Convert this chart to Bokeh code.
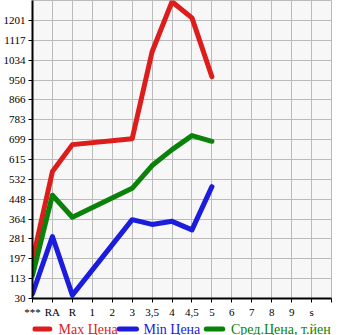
from bokeh.plotting import figure
from bokeh.models import Range1d, FixedTicker
from bokeh.core.properties import value
from bokeh.layouts import column
from bokeh.embed import file_html
from bokeh.resources import INLINE

categories = ["***", "RA", "R", "1", "2", "3", "3,5", "4", "4,5", "5", "6", "7", "8", "9", "s"]
y_ticks = [30, 113, 197, 281, 364, 448, 532, 615, 699, 783, 866, 950, 1034, 1117, 1201]
max_price = [190, 565, 678, None, None, 703, 1069, 1280, 1212, 964, None, None, None, None, None]
min_price = [50, 291, 44, None, None, 362, 342, 355, 319, 501, None, None, None, None, None]
avg_price = [127, 465, 372, None, None, 494, 590, 657, 716, 692, None, None, None, None, None]
labels = ["Max Цена", "Min Цена", "Сред.Цена, т.йен"]
colors = ["#dd1c1c", "#1c1cdd", "#0a820a"]

FONT = "Liberation Serif"

p = figure(width=345, height=320, x_range=Range1d(0, 15), y_range=Range1d(30, 1285),
           output_backend="svg", toolbar_location=None,
           min_border_left=31, min_border_right=14, min_border_top=0, min_border_bottom=20)
p.background_fill_color = "#f7f7f7"
p.border_fill_color = "white"
p.outline_line_color = "#bbbbbb"

xt = list(range(0, 16))
p.xaxis.ticker = FixedTicker(ticks=xt)
p.xaxis.major_label_overrides = {i: (categories[i] if i < len(categories) else "") for i in xt}
p.yaxis.ticker = FixedTicker(ticks=y_ticks)
p.yaxis.major_label_overrides = {v: str(v) for v in y_ticks}
p.xgrid.ticker = FixedTicker(ticks=xt)
p.ygrid.ticker = FixedTicker(ticks=y_ticks)
for g in (p.xgrid, p.ygrid):
    g.grid_line_color = "#bbbbbb"
    g.grid_line_width = 1

for ax in (p.xaxis, p.yaxis):
    ax.axis_line_color = "black"
    ax.axis_line_width = 2
    ax.major_tick_line_color = "black"
    ax.major_tick_out = 4
    ax.major_tick_in = 0
    ax.minor_tick_line_color = None
    ax.major_label_text_font = FONT
    ax.major_label_text_font_size = "11px"
    ax.major_label_text_color = "black"
    ax.major_label_standoff = 3
p.yaxis.major_label_text_baseline = "alphabetic"

for series, col in zip([max_price, min_price, avg_price], colors):
    xs = [i for i, v in enumerate(series) if v is not None]
    ys = [v for v in series if v is not None]
    p.line(xs, ys, line_color=col, line_width=5, line_join="round", line_cap="round")

# legend strip below the chart (pixel coordinates)
p2 = figure(width=345, height=15, x_range=Range1d(0, 345), y_range=Range1d(0, 15),
            x_axis_type=None, y_axis_type=None,
            output_backend="svg", toolbar_location=None,
            min_border_left=0, min_border_right=0, min_border_top=0, min_border_bottom=0)
p2.grid.visible = False
p2.outline_line_color = None
p2.background_fill_color = "white"
p2.border_fill_color = "white"

sw_x0 = [2.5, 100, 200.5]
sw_x1 = [20, 120, 219.5]
txt_x = [30, 128, 229]
ly = 6.5
p2.segment(x0=sw_x0, y0=[ly] * 3, x1=sw_x1, y1=[ly] * 3, line_color=colors,
           line_width=5, line_cap="round")
p2.text(x=txt_x, y=[ly] * 3, text=labels, text_color=colors,
        text_font=value(FONT), text_font_size="14px", text_baseline="middle", text_align="left")

layout = column(p, p2, spacing=0)
open("out.html", "w").write(file_html(layout, INLINE))
